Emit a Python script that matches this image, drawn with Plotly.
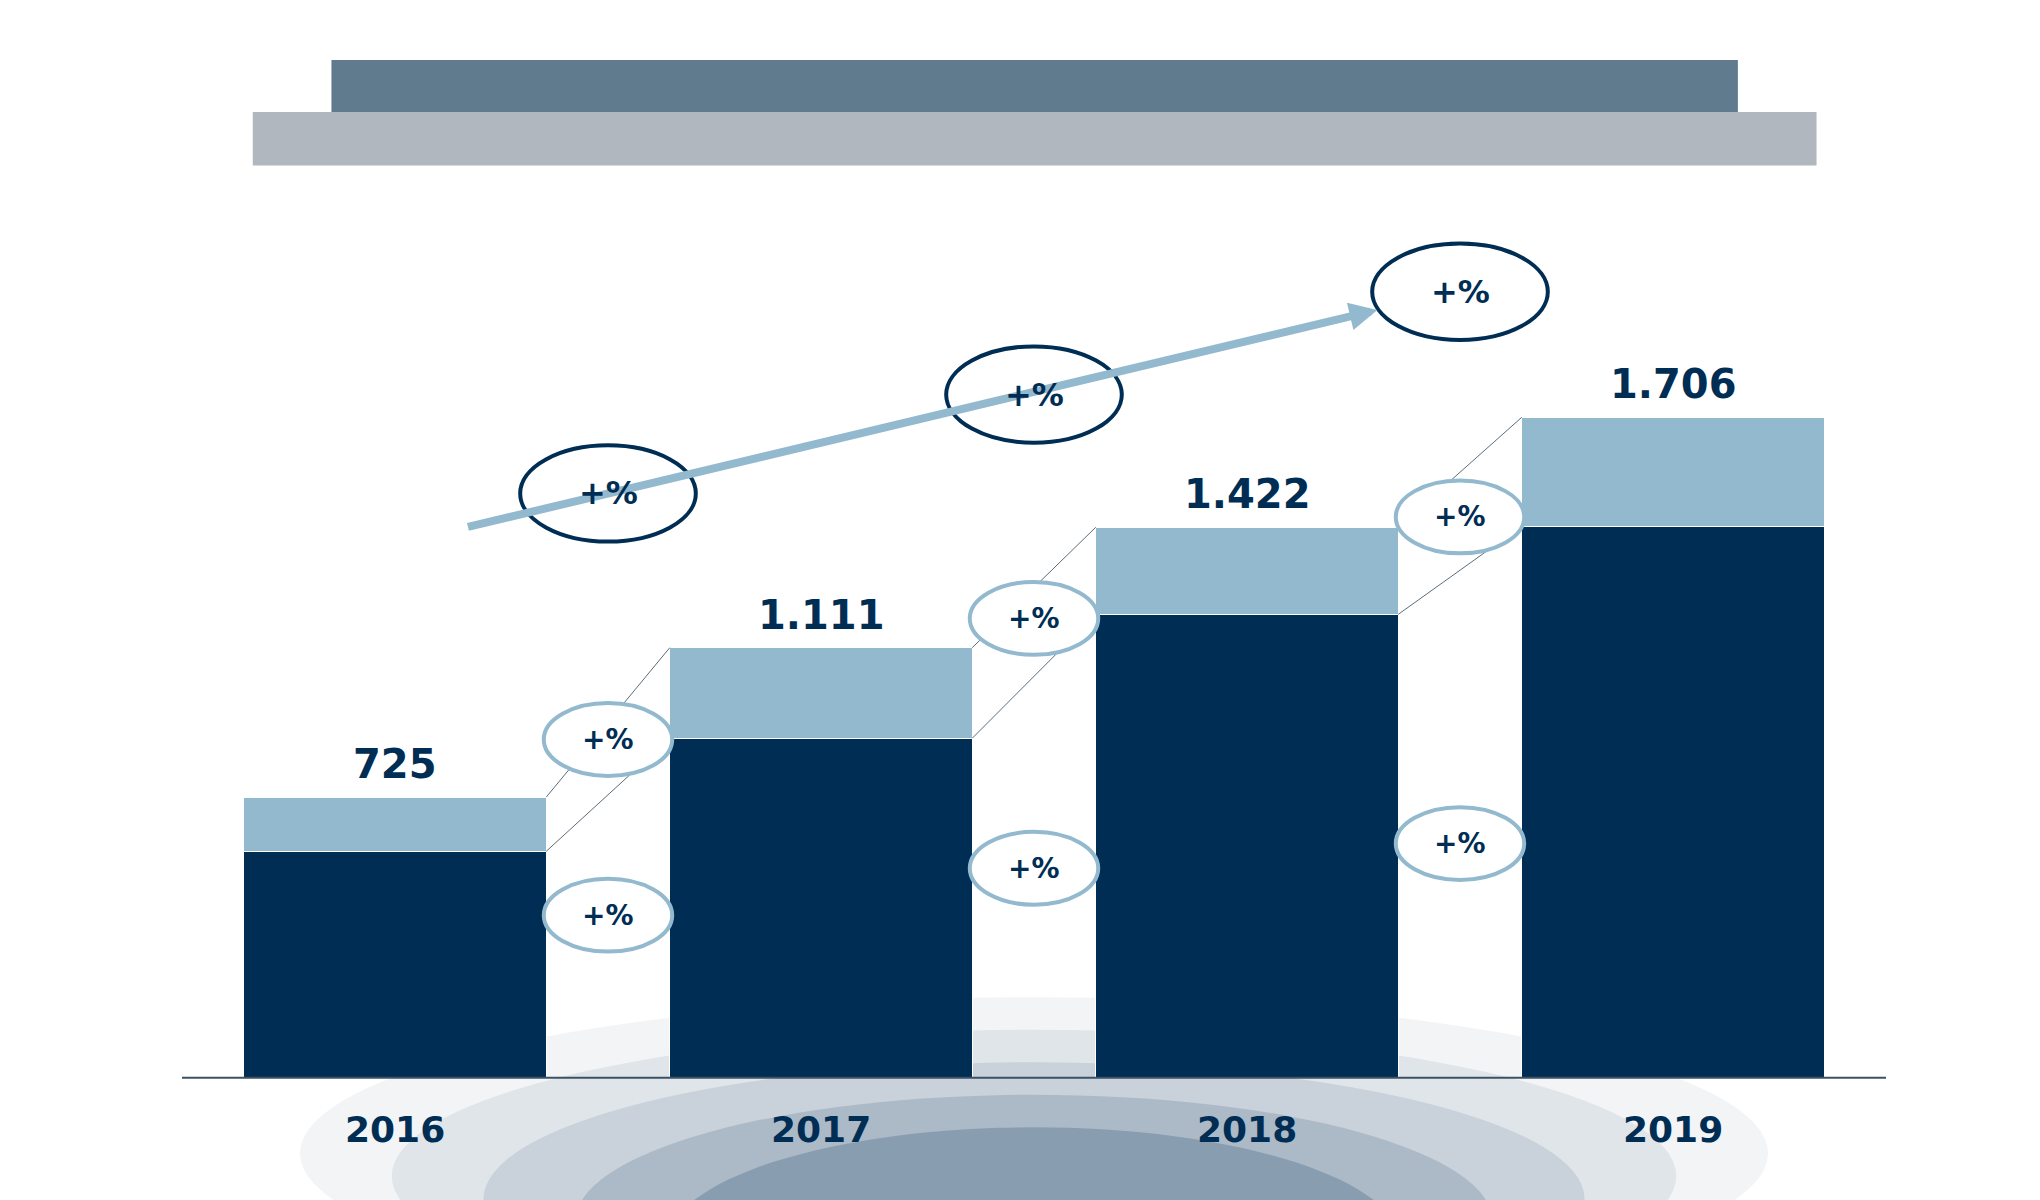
import plotly.graph_objects as go

years = ["2016", "2017", "2018", "2019"]
base_vals = [585, 877, 1197, 1425]
top_vals = [140, 234, 225, 281]
total_labels = ["725", "1.111", "1.422", "1.706"]

NAVY = "#002d54"
LIGHT = "#93b9cf"
S = 0.2975  # display px per unit

def dx(px):
    return (px - 295.5) / 325.0

def dy(py):
    return (822 - py) / S

xs = list(range(len(years)))
W = 0.71
fig = go.Figure()
fig.add_bar(x=xs, y=base_vals, width=W, marker=dict(color=NAVY, line=dict(width=1, color="white")))
fig.add_bar(x=xs, y=top_vals, width=W, marker=dict(color=LIGHT, line=dict(width=1, color="white")))

shapes = []
# bottom glow
for i, op in enumerate([0.05, 0.07, 0.1, 0.14, 0.2]):
    w = 560 - i * 70
    shapes.append(dict(type="circle", xref="x", yref="y", layer="below",
                       x0=dx(783 - w), x1=dx(783 + w), y0=dy(1000 + 10 * i), y1=dy(760 + 25 * i),
                       fillcolor=f"rgba(0,45,84,{op})", line=dict(width=0)))
# header
shapes.append(dict(type="rect", xref="x", yref="y", x0=dx(187), x1=dx(1380), y0=dy(121), y1=dy(80),
                   fillcolor="#b0b7be", line=dict(width=0)))
shapes.append(dict(type="rect", xref="x", yref="y", x0=dx(247), x1=dx(1320), y0=dy(80), y1=dy(40),
                   fillcolor="#5f7b8d", line=dict(width=0)))
# axis line
shapes.append(dict(type="line", xref="x", yref="y", x0=-0.5, x1=3.5, y0=0, y1=0, line=dict(color="#3c5264", width=2)))
# connectors
totals = [b + t for b, t in zip(base_vals, top_vals)]
for i in range(3):
    for lv in (base_vals, totals):
        shapes.append(dict(type="line", xref="x", yref="y", x0=i + W / 2, x1=i + 1 - W / 2,
                           y0=lv[i], y1=lv[i + 1], line=dict(color="#5a6d7c", width=1)))

annotations = []
# arrow
annotations.append(dict(x=dx(1045), y=dy(232), ax=dx(350), ay=dy(399), xref="x", yref="y",
                        axref="x", ayref="y", showarrow=True, arrowhead=2, arrowsize=0.7,
                        arrowwidth=8, arrowcolor=LIGHT, text=""))

def ellipse(cx, cy, rx, ry, color, lw, size):
    shapes.append(dict(type="circle", xref="x", yref="y", x0=dx(cx - rx), x1=dx(cx + rx),
                       y0=dy(cy + ry), y1=dy(cy - ry), fillcolor="white", line=dict(color=color, width=lw)))
    annotations.append(dict(x=dx(cx), y=dy(cy), xref="x", yref="y", text="<b>+%</b>", showarrow=False,
                            font=dict(size=size, color=NAVY, family="DejaVu Sans")))

for cx, cy in [(458, 373), (783, 297), (1108, 218)]:
    ellipse(cx, cy, 67, 37, NAVY, 4, 32)
for cx, cy in [(458, 562), (458, 697), (783, 469), (783, 661), (1108, 391), (1108, 642)]:
    ellipse(cx, cy, 49, 28, LIGHT, 4, 28)

for i, (t, lab) in enumerate(zip(totals, total_labels)):
    annotations.append(dict(x=i, y=t, yshift=8, yanchor="bottom", xref="x", yref="y", showarrow=False,
                            text=f"<b>{lab}</b>", font=dict(size=40, color=NAVY, family="DejaVu Sans")))
    annotations.append(dict(x=i, y=dy(862), xref="x", yref="y", showarrow=False,
                            text=f"<b>{years[i]}</b>", font=dict(size=36, color=NAVY, family="DejaVu Sans")))

fig.update_layout(
    width=2040, height=1200, barmode="stack", showlegend=False,
    paper_bgcolor="white", plot_bgcolor="white",
    margin=dict(l=174, r=162, t=0, b=122),
    xaxis=dict(range=[-0.5, 3.5], visible=False),
    yaxis=dict(range=[dy(922) , dy(0)], visible=False),
    shapes=shapes, annotations=annotations,
)
fig.update_layout(margin=dict(b=0))
fig.write_html("out.html")
